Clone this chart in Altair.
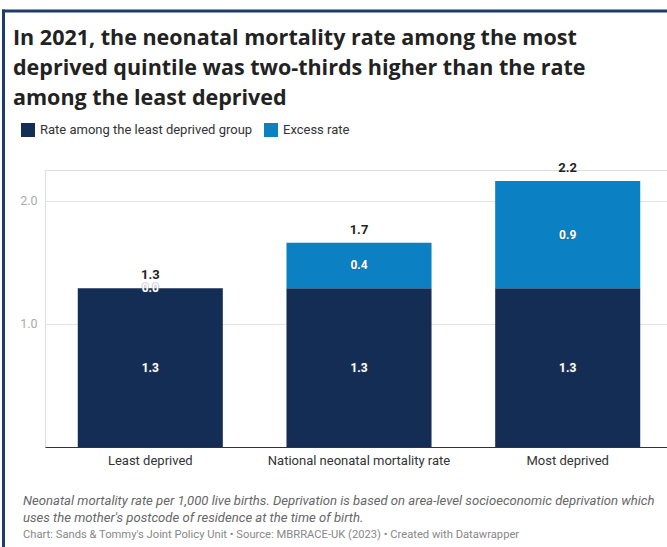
import altair as alt
import pandas as pd

# Neonatal mortality per 1,000 live births, 2021
categories = ["Least deprived", "National neonatal mortality rate", "Most deprived"]
base_rate = [1.29, 1.29, 1.29]
excess_rate = [0.0, 0.37, 0.87]
series_names = ["Rate among the least deprived group", "Excess rate"]
series_colors = ["#142d55", "#0b81c3"]
y_ticks = [1.0, 2.0]

title_lines = [
    "In 2021, the neonatal mortality rate among the most",
    "deprived quintile was two-thirds higher than the rate",
    "among the least deprived",
]
note_text = (
    "Neonatal mortality rate per 1,000 live births. Deprivation is based on area-level socioeconomic deprivation which\n"
    "uses the mother's postcode of residence at the time of birth."
)
credit_text = "Chart: Sands & Tommy's Joint Policy Unit \u2022 Source: MBRRACE-UK (2023) \u2022 Created with Datawrapper"

rows = []
for cat, b, e in zip(categories, base_rate, excess_rate):
    rows.append({"category": cat, "series": series_names[0], "k": 0, "value": b})
    rows.append({"category": cat, "series": series_names[1], "k": 1, "value": e})
df = pd.DataFrame(rows)

W, H = 622, 277
FONT = "Roboto"

x_enc = alt.X(
    "category:N",
    sort=categories,
    scale=alt.Scale(range=[0, 628], paddingInner=0.305, paddingOuter=0.157),
    axis=alt.Axis(
        title=None, labelAngle=0, labelFontSize=13, labelColor="#333333",
        labelFont=FONT, labelPadding=7, ticks=False, domainColor="#333333",
        domainWidth=1, grid=False, labelLimit=300,
    ),
)
y_scale = alt.Scale(domain=[0, 2.25], nice=False)

bars = alt.Chart(df).mark_bar().encode(
    x=x_enc,
    y=alt.Y(
        "value:Q", stack="zero", scale=y_scale,
        axis=alt.Axis(
            title=None, values=y_ticks, format=".1f", domain=False, ticks=False,
            labelColor="#aaaaaa", labelFontSize=12.5, labelFont=FONT, labelPadding=8,
            gridColor="#e3e3e3", gridWidth=1,
        ),
    ),
    color=alt.Color(
        "series:N",
        scale=alt.Scale(domain=series_names, range=series_colors),
        legend=alt.Legend(
            title=None, orient="none", legendX=-24, legendY=-47, direction="horizontal",
            symbolType="square", symbolSize=196, symbolStrokeWidth=0, labelFontSize=13,
            labelFont=FONT, labelColor="#333333", labelOffset=5, columnPadding=11,
            labelLimit=400,
        ),
    ),
    order=alt.Order("k:Q", sort="ascending"),
)

# segment values at the middle of each stacked piece
seg_base = alt.Chart(df).transform_stack(
    stack="value", groupby=["category"], sort=[alt.SortField("k", order="ascending")],
    as_=["v0", "v1"],
).transform_calculate(
    mid="(datum.v0 + datum.v1) / 2"
).encode(
    x=alt.X("category:N", sort=categories),
    y=alt.Y("mid:Q", scale=y_scale),
    text=alt.Text("value:Q", format=".1f"),
)
seg_halo = seg_base.mark_text(
    font=FONT, fontSize=12, fontWeight="bold", color="#555555",
    stroke="#555555", strokeWidth=2, strokeOpacity=0.35, opacity=0.6, baseline="middle",
)
seg_labels = seg_base.mark_text(
    font=FONT, fontSize=12, fontWeight="bold", color="white", baseline="middle",
)

totals = alt.Chart(df).transform_aggregate(
    total="sum(value)", groupby=["category"]
).mark_text(
    font=FONT, fontSize=13, fontWeight="bold", color="#222222", baseline="middle", dy=-13,
).encode(
    x=alt.X("category:N", sort=categories),
    y=alt.Y("total:Q", scale=y_scale),
    text=alt.Text("total:Q", format=".1f"),
)

one = pd.DataFrame({"note": [note_text], "credit": [credit_text]})

note = alt.Chart(one).mark_text(
    font=FONT, fontSize=13.1, fontStyle="italic", color="#666666", align="left",
    baseline="middle", lineBreak="\n", lineHeight=17,
).encode(text="note:N", x=alt.value(-22), y=alt.value(331))

credit = alt.Chart(one).mark_text(
    font=FONT, fontSize=11.2, color="#888888", align="left", baseline="middle",
).encode(text="credit:N", x=alt.value(-22), y=alt.value(365))

frame_top = alt.Chart(one).mark_rule(color="#1c3d6e", strokeWidth=3).encode(
    x=alt.value(-43), x2=alt.value(W + 10), y=alt.value(-159)
)
frame_left = alt.Chart(one).mark_rule(color="#1c3d6e", strokeWidth=3).encode(
    x=alt.value(-41.5), y=alt.value(-160.5), y2=alt.value(H + 110)
)

chart = alt.layer(
    bars, seg_halo, seg_labels, totals, note, credit, frame_top, frame_left
).properties(
    width=W,
    height=H,
    autosize=alt.AutoSizeParams(type="none"),
    padding={"left": 45, "top": 170, "right": 0, "bottom": 100},
    title=alt.Title(
        text=title_lines, anchor="start", frame="group", dx=-32, offset=-101,
        fontSize=21.5, font="Open Sans", fontWeight="bold", color="#222222", lineHeight=30,
    ),
).configure_view(stroke=None).configure(background="white")

chart.save("out.html", embed_options={"renderer": "svg", "actions": False})
